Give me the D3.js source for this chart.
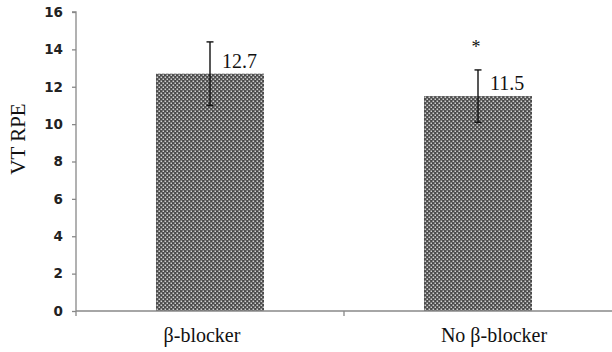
<!DOCTYPE html>
<html><head><meta charset="utf-8">
<script src="https://cdn.jsdelivr.net/npm/d3@7"></script>
<style>body{margin:0;background:#fff}</style>
</head><body>
<svg id="c" width="612" height="352"></svg>
<script>
const categories = ["β-blocker", "No β-blocker"];
const values = [12.7, 11.5];
const errors = [1.7, 1.4];
const valueLabels = ["12.7", "11.5"];
const significance = ["", "*"];
const yTicks = [0, 2, 4, 6, 8, 10, 12, 14, 16];

(function () {
const svg = d3.select("#c");
const defs = svg.append("defs");
const pat = defs.append("pattern").attr("id", "chk").attr("patternUnits", "userSpaceOnUse")
  .attr("width", 4).attr("height", 4);
pat.append("rect").attr("width", 4).attr("height", 4).attr("fill", "#4a4a4a");
pat.append("rect").attr("x", 0.5).attr("y", 0.5).attr("width", 1.6).attr("height", 1.6).attr("fill", "#d0d0d0");
pat.append("rect").attr("x", 2.5).attr("y", 2.5).attr("width", 1.6).attr("height", 1.6).attr("fill", "#d0d0d0");

const mLeft = 76, mRight = 612, mTop = 12, mBottom = 311;
const x = d3.scaleBand().domain(categories).range([mLeft, mRight]).paddingInner(0).paddingOuter(0);
const y = d3.scaleLinear().domain([0, 16]).range([mBottom, mTop]);
const bw = 108;

// bars
svg.selectAll("rect.bar").data(values).enter().append("rect")
  .attr("class", "bar")
  .attr("x", (d, i) => x(categories[i]) + x.bandwidth() / 2 - bw / 2)
  .attr("width", bw)
  .attr("y", d => y(d))
  .attr("height", d => y(0) - y(d))
  .attr("fill", "url(#chk)");

// y axis
const ya = svg.append("g").attr("transform", `translate(${mLeft},0)`)
  .call(d3.axisLeft(y).tickValues(yTicks).tickSize(4).tickPadding(9).tickFormat(d3.format("d")));
ya.select(".domain").attr("stroke", "#888").attr("stroke-width", 1.3).attr("d", `M-4,${mTop}H0V${mBottom + 5}`);
ya.selectAll(".tick line").attr("stroke", "#888").attr("stroke-width", 1.3);
ya.selectAll(".tick text").attr("font-family", "DejaVu Sans, Verdana, sans-serif").attr("font-size", 13.5)
  .attr("fill", "#222").attr("font-weight", "bold");

// x axis
const xa = svg.append("g").attr("transform", `translate(0,${mBottom})`)
  .call(d3.axisBottom(x).tickSize(0).tickPadding(0));
xa.select(".domain").attr("stroke", "#888").attr("stroke-width", 1.3).attr("d", `M${mLeft},0H${mRight}`);
xa.selectAll(".tick line").remove();
xa.selectAll(".tick text").remove();
svg.append("g").selectAll("line").data([categories[1]]).enter().append("line")
  .attr("x1", d => x(d)).attr("x2", d => x(d)).attr("y1", mBottom).attr("y2", mBottom + 5)
  .attr("stroke", "#888").attr("stroke-width", 1.3);

// category labels
const labelShift = [-8, 16];
svg.selectAll("text.cat").data(categories).enter().append("text")
  .attr("class", "cat")
  .attr("x", (d, i) => x(d) + x.bandwidth() / 2 + labelShift[i])
  .attr("y", 342)
  .attr("text-anchor", "middle")
  .attr("font-family", "Liberation Serif, Times New Roman, serif")
  .attr("font-size", 20).attr("fill", "#111")
  .text(d => d);

// error bars
const cx = (i) => x(categories[i]) + x.bandwidth() / 2;
const eg = svg.append("g").attr("stroke", "#111").attr("stroke-width", 1.4);
values.forEach((v, i) => {
  const c = cx(i);
  eg.append("line").attr("x1", c).attr("x2", c).attr("y1", y(v + errors[i])).attr("y2", y(v - errors[i]));
  eg.append("line").attr("x1", c - 3.5).attr("x2", c + 3.5).attr("y1", y(v + errors[i])).attr("y2", y(v + errors[i]));
  eg.append("line").attr("x1", c - 3.5).attr("x2", c + 3.5).attr("y1", y(v - errors[i])).attr("y2", y(v - errors[i]));
});

// value labels
svg.selectAll("text.val").data(values).enter().append("text")
  .attr("class", "val")
  .attr("x", (d, i) => cx(i) + 12)
  .attr("y", d => y(d) - 6)
  .attr("font-family", "Liberation Serif, Times New Roman, serif")
  .attr("font-size", 20).attr("fill", "#111")
  .text((d, i) => valueLabels[i]);

// significance
svg.selectAll("text.sig").data(significance).enter().append("text")
  .attr("class", "sig")
  .attr("x", (d, i) => cx(i) - 2)
  .attr("y", (d, i) => y(values[i] + errors[i]) - 17)
  .attr("text-anchor", "middle")
  .attr("font-family", "Liberation Serif, Times New Roman, serif")
  .attr("font-size", 18).attr("fill", "#111")
  .text(d => d);

// y title
svg.append("text")
  .attr("transform", `translate(25,139) rotate(-90)`)
  .attr("text-anchor", "middle")
  .attr("font-family", "Liberation Serif, Times New Roman, serif")
  .attr("font-size", 21).attr("fill", "#111")
  .text("VT RPE");
})();
</script>
</body></html>
